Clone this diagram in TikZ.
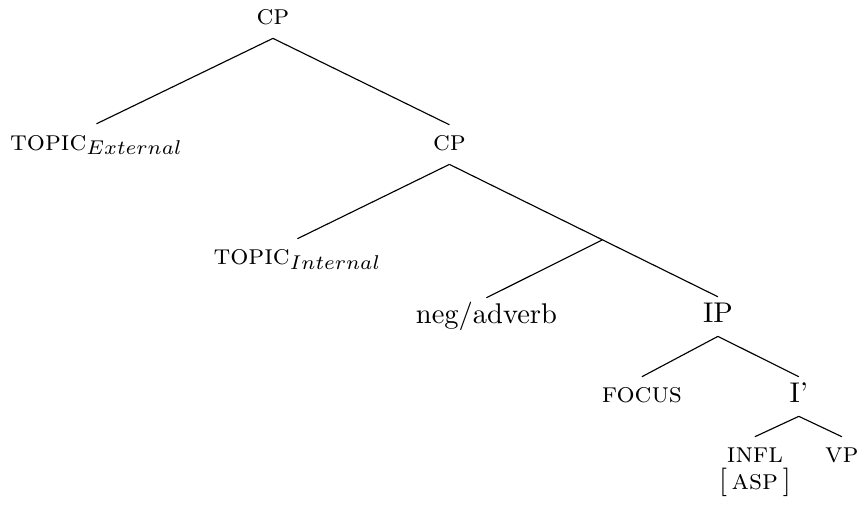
\documentclass[tikz,border=0pt]{standalone}
\usetikzlibrary{calc}
\tikzset{cat/.style = {inner xsep=0pt, inner ysep=4.5pt, text height=4.5pt, text depth=0pt, anchor=base}}

\begin{document}
\begin{tikzpicture}
\useasboundingbox (0,0) rectangle (10.63,6.313);
\node [cat] (cp1) at (3.366,6.005) {\textsc{cp}};
\node [cat] (topext) at (1.190,4.463) {\textsc{topic}$_{External}$};
\node [cat] (cp2) at (5.542,4.451) {\textsc{cp}};
\node [cat] (topint) at (3.668,3.046) {\textsc{topic}$_{Internal}$};
\node [cat] (neg) at (5.999,2.318) {neg/adverb};
\node [cat] (ip) at (8.853,2.330) {IP};
\node [cat] (focus) at (7.916,1.344) {\textsc{focus}};
\node [cat] (ibar) at (9.851,1.344) {I'};
\node [cat] (infl) at (9.309,0.604) {\textsc{infl}};
\node [cat] (asp) at (9.309,0.271) {[\,\textsc{asp}\,]};
\node [cat] (vp) at (10.382,0.604) {\textsc{vp}};
\coordinate (bar) at ($(cp2.south)!0.57!(ip.north)$);
\draw (cp1.south) -- (topext.north);
\draw (cp1.south) -- (cp2.north);
\draw (cp2.south) -- (topint.north);
\draw (cp2.south) -- (bar) -- (ip.north);
\draw (bar) -- (neg.north);
\draw (ip.south) -- (focus.north);
\draw (ip.south) -- (ibar.north);
\draw (ibar.south) -- (infl.north);
\draw (ibar.south) -- (vp.north);
\end{tikzpicture}
\end{document}
